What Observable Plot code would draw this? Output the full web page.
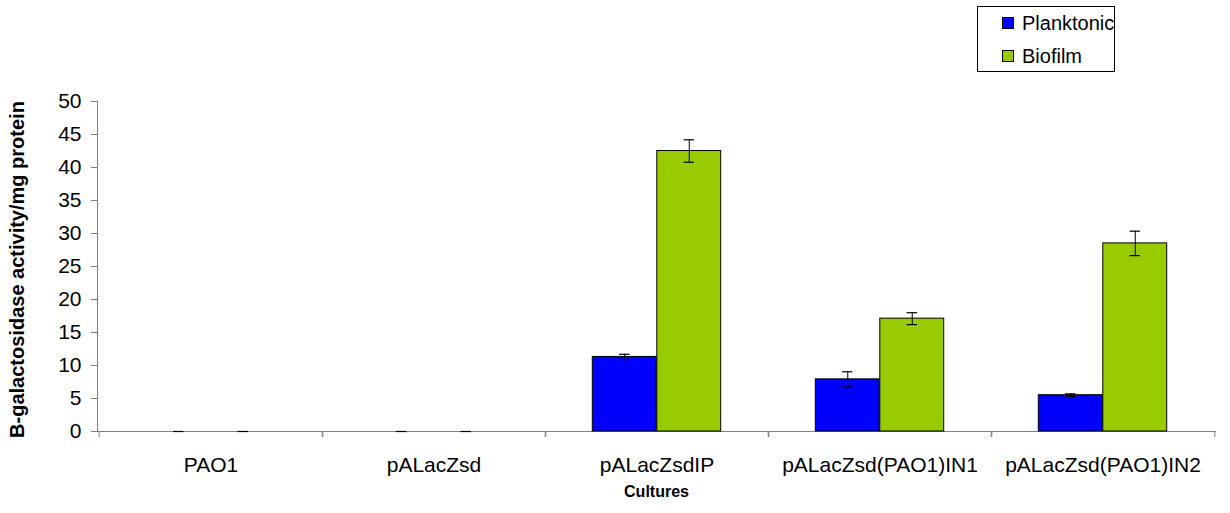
<!DOCTYPE html>
<html>
<head>
<meta charset="utf-8">
<script src="https://cdn.jsdelivr.net/npm/d3@7"></script>
<script src="https://cdn.jsdelivr.net/npm/@observablehq/plot@0.6"></script>
<style>
  html, body { margin: 0; padding: 0; background: #fff; }
  #wrap { position: relative; width: 1230px; height: 513px; font-family: "Liberation Sans", Arial, sans-serif; }
  #legend { position: absolute; left: 977px; top: 6px; width: 136px; height: 64px; border: 1px solid #000; background: #fff; font-size: 20px; overflow: hidden; }
  #legend .item { position: absolute; left: 24px; height: 24px; display: flex; align-items: center; white-space: nowrap; }
  #legend .sw { width: 10px; height: 10px; border: 1px solid #000; margin-right: 8px; }
</style>
</head>
<body>
<div id="wrap"></div>
<script>
const cultures = ["PAO1", "pALacZsd", "pALacZsdIP", "pALacZsd(PAO1)IN1", "pALacZsd(PAO1)IN2"];
const series = ["Planktonic", "Biofilm"];
const colors = ["#0000ff", "#99cc00"];
const planktonic = [0, 0, 11.3, 7.9, 5.5];
const planktonicErr = [0, 0, 0.4, 1.15, 0.2];
const biofilm = [0, 0, 42.5, 17.1, 28.5];
const biofilmErr = [0, 0, 1.7, 0.9, 1.85];
const yTicks = [0, 5, 10, 15, 20, 25, 30, 35, 40, 45, 50];
const yTitle = "B-galactosidase activity/mg protein";
const xTitle = "Cultures";

const rows = [];
cultures.forEach((c, i) => {
  rows.push({culture: c, series: series[0], value: planktonic[i], err: planktonicErr[i]});
  rows.push({culture: c, series: series[1], value: biofilm[i], err: biofilmErr[i]});
});

const W = 1230, H = 513, mL = 97, mR = 15, mT = 101, mB = 82;
const band = (W - mL - mR) / cultures.length;
const barW = 64.5;
const off = barW / 2;
const capW = 11;

const marks = [];
series.forEach((s, k) => {
  const dx = k === 0 ? -off : off;
  const sub = rows.filter(d => d.series === s);
  marks.push(Plot.barY(sub.filter(d => d.value > 0), {
    x: "culture", y: "value", fill: colors[k], stroke: "#000", strokeWidth: 1,
    insetLeft: (band - barW) / 2, insetRight: (band - barW) / 2, dx
  }));
  marks.push(Plot.ruleX(sub.filter(d => d.err > 0), {
    x: "culture", y1: d => d.value - d.err, y2: d => d.value + d.err, stroke: "#000", strokeWidth: 1, dx
  }));
  marks.push(Plot.tickY(sub, {
    x: "culture", y: d => d.value + d.err, stroke: "#000", strokeWidth: 1.2,
    insetLeft: (band - capW) / 2, insetRight: (band - capW) / 2, dx
  }));
  marks.push(Plot.tickY(sub.filter(d => d.err > 0), {
    x: "culture", y: d => d.value - d.err, stroke: "#000", strokeWidth: 1.2,
    insetLeft: (band - capW) / 2, insetRight: (band - capW) / 2, dx
  }));
});

const chart = Plot.plot({
  width: W, height: H,
  marginLeft: mL, marginRight: mR, marginTop: mT, marginBottom: mB,
  style: {fontFamily: "'Liberation Sans', Arial, sans-serif", fontSize: "21px", color: "#000", background: "#fff"},
  x: {domain: cultures, padding: 0, label: null},
  y: {domain: [0, 50], ticks: yTicks, label: null},
  marks: [
    Plot.frame({anchor: "left", stroke: "#808080"}),
    Plot.frame({anchor: "bottom", stroke: "#808080"}),
    Plot.axisY({ticks: yTicks, tickSize: 6, tickPadding: 10, stroke: "#808080", fill: "#000", label: null, fontSize: 21}),
    Plot.axisX({tickSize: 0, tickPadding: 26, label: null, fontSize: 21}),
    Plot.axisX({tickSize: 6, tickFormat: () => "", dx: -band / 2, stroke: "#808080", label: null}),
    Plot.axisX({tickSize: 6, tickFormat: () => "", dx: band / 2, stroke: "#808080", label: null}),
    ...marks,
    Plot.text([yTitle], {frameAnchor: "left", textAnchor: "middle", rotate: -90, dx: -80, dy: 3, fontWeight: "bold", fontSize: 20, fill: "#000"}),
    Plot.text([xTitle], {frameAnchor: "bottom", textAnchor: "middle", dy: 65, fontWeight: "bold", fontSize: 16, fill: "#000"})
  ]
});

const wrap = document.getElementById("wrap");
wrap.appendChild(chart);

const legend = document.createElement("div");
legend.id = "legend";
series.forEach((s, k) => {
  const it = document.createElement("div");
  it.className = "item";
  it.style.top = (k === 0 ? 4 : 37) + "px";
  const sw = document.createElement("span");
  sw.className = "sw";
  sw.style.background = colors[k];
  const tx = document.createElement("span");
  tx.textContent = s;
  it.appendChild(sw);
  it.appendChild(tx);
  legend.appendChild(it);
});
wrap.appendChild(legend);
</script>
</body>
</html>
